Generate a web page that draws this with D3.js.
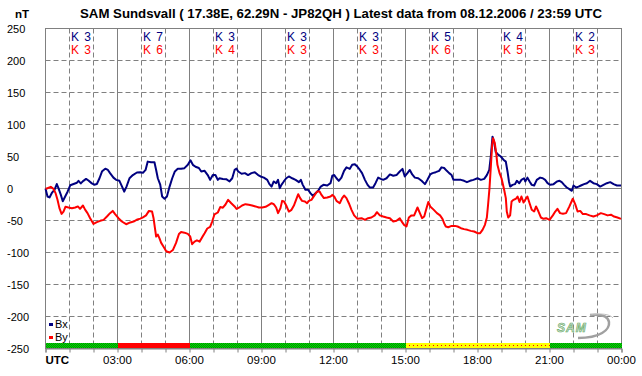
<!DOCTYPE html>
<html><head><meta charset="utf-8">
<script src="https://cdn.jsdelivr.net/npm/d3@7/dist/d3.min.js"></script>
<style>
html,body{margin:0;padding:0;background:#fff;}
svg{display:block;font-family:"Liberation Sans",Arial,sans-serif;}
</style></head>
<body>
<svg id="chart" width="642" height="376"></svg>
<script>
// ---- data ----
const titleText = "SAM Sundsvall ( 17.38E, 62.29N - JP82QH ) Latest data from 08.12.2006 / 23:59 UTC";
const unitLabel = "nT";
const yTicks = [250, 200, 150, 100, 50, 0, -50, -100, -150, -200, -250];
const xTickHours = [0, 3, 6, 9, 12, 15, 18, 21, 24];
const xTickLabels = ["UTC", "03:00", "06:00", "09:00", "12:00", "15:00", "18:00", "21:00", "00:00"];
const kBx = [3, 7, 3, 3, 3, 5, 4, 2];
const kBy = [3, 6, 4, 3, 3, 6, 5, 3];
const activityLevels = ["quiet", "storm", "quiet", "quiet", "quiet", "active", "active", "quiet"];
const seriesNames = ["Bx", "By"];

const bxTimes = [0,0.083,0.167,0.264,0.375,0.47,0.54,0.64,0.72,0.82,0.92,1.03,1.17,1.31,1.375,1.47,1.58,1.69,1.79,1.93,2.03,2.14,2.25,2.36,2.49,2.6,2.69,2.83,2.94,3.08,3.19,3.28,3.375,3.5,3.64,3.81,3.95,4.06,4.17,4.26,4.40,4.54,4.61,4.68,4.78,4.86,4.96,5.06,5.17,5.28,5.39,5.51,5.65,5.79,5.93,6.04,6.14,6.25,6.39,6.49,6.63,6.76,6.86,6.97,7.08,7.18,7.25,7.39,7.53,7.67,7.78,7.88,7.96,8.03,8.17,8.31,8.44,8.58,8.72,8.86,8.96,9.10,9.24,9.33,9.42,9.51,9.61,9.69,9.76,9.83,9.93,10.03,10.14,10.28,10.42,10.56,10.64,10.72,10.83,10.94,11.04,11.14,11.25,11.36,11.47,11.58,11.74,11.875,11.95,12.03,12.125,12.22,12.33,12.44,12.54,12.68,12.78,12.89,13.0,13.10,13.19,13.31,13.42,13.51,13.65,13.75,13.86,13.97,14.07,14.21,14.35,14.49,14.625,14.76,14.875,14.97,15.08,15.18,15.28,15.39,15.53,15.67,15.81,15.92,16.03,16.125,16.26,16.40,16.50,16.61,16.72,16.82,16.92,17.0,17.14,17.31,17.44,17.56,17.69,17.83,18.0,18.14,18.28,18.39,18.49,18.56,18.625,18.69,18.76,18.86,18.97,19.08,19.18,19.25,19.31,19.36,19.46,19.56,19.64,19.74,19.83,19.94,19.99,20.08,20.17,20.26,20.36,20.47,20.61,20.72,20.82,20.92,21.03,21.17,21.31,21.42,21.51,21.61,21.72,21.83,21.93,22.0,22.11,22.21,22.31,22.44,22.56,22.69,22.83,22.97,23.11,23.25,23.39,23.53,23.67,23.81,23.98];
const bxValues = [0,-12.5,-14,-7,-2,7,0.5,-10,-20,-12.5,-5,5,7,9,12,8,12,15,12.5,8,6,7,16,27,31,29,24,17,13.5,12,3,-5,3,16,21,25,25.5,24.5,29,42,41,41,29,16,6,-12.5,-16,-12.5,3,16,26.6,30.7,30.7,31.8,37,44,37,34,32,26.6,27.6,21,13.5,21,21,13.5,16,15,14.6,11,16,29,31,26.6,23,24,21,24,25.5,21,18.8,17,13.5,6.8,3,11,8.3,13.5,0.5,5.7,11,16,18.8,16,13.5,9.9,13.5,5.7,-2,-2,-7.3,-11.5,-7.3,-3.6,3,5.7,4.7,8.3,20,21,16,12,17,27.6,33,30.7,37,38,34,29,24,13.5,5.7,1.6,1.6,8.3,17,15,13.5,16,22,20,21,26.6,30.7,18.8,24,29,22,17,16,12,6.8,14,22,24,25.5,27.6,33,32,27.6,24,21,13.5,13.5,13.5,12,9.9,12,13.5,16,13.5,15,21,29,52,81,73,57,53,50,45,42,26.6,11,3,5.7,6.8,12,8.3,13.5,16,11,17,11,5.7,4.7,13.5,17,16,13.5,8.3,5.7,6.8,11,12,9.9,5.7,1.6,-1,-3.6,4.7,1.6,3,4.7,6.8,8.3,12,8.3,6.8,3,5.7,8.3,9.9,6.8,4.7,4.7];

const byTimes = [0,0.056,0.22,0.33,0.42,0.5,0.58,0.67,0.75,0.83,0.96,1.1,1.24,1.35,1.44,1.56,1.65,1.75,1.86,2.0,2.14,2.28,2.42,2.56,2.69,2.8,2.9,3.04,3.18,3.36,3.53,3.67,3.83,3.95,4.06,4.19,4.31,4.44,4.50,4.56,4.61,4.68,4.75,4.82,4.92,5.03,5.17,5.31,5.44,5.56,5.65,5.79,5.93,6.03,6.11,6.21,6.31,6.42,6.53,6.63,6.74,6.86,6.94,7.04,7.18,7.28,7.39,7.50,7.61,7.74,7.88,7.96,8.06,8.19,8.33,8.47,8.61,8.75,8.89,9.03,9.17,9.31,9.42,9.51,9.61,9.69,9.79,9.86,9.94,10.03,10.14,10.25,10.35,10.44,10.53,10.61,10.69,10.81,10.90,10.97,11.08,11.22,11.32,11.42,11.50,11.60,11.74,11.875,11.95,12.03,12.125,12.26,12.36,12.44,12.54,12.64,12.75,12.86,13.0,13.17,13.31,13.44,13.58,13.72,13.81,13.93,14.07,14.21,14.35,14.49,14.625,14.76,14.86,14.94,15.04,15.14,15.25,15.36,15.50,15.60,15.69,15.78,15.875,15.95,16.03,16.17,16.31,16.44,16.54,16.61,16.68,16.78,16.92,17.06,17.17,17.31,17.44,17.58,17.72,17.86,18.0,18.11,18.21,18.31,18.39,18.44,18.50,18.56,18.61,18.65,18.72,18.78,18.83,18.92,19.0,19.11,19.18,19.22,19.28,19.36,19.42,19.50,19.60,19.67,19.75,19.83,19.92,19.99,20.08,20.17,20.26,20.36,20.44,20.54,20.64,20.75,20.86,21.0,21.14,21.24,21.33,21.44,21.56,21.69,21.83,21.97,22.07,22.17,22.28,22.39,22.53,22.67,22.83,22.97,23.14,23.28,23.42,23.56,23.69,23.83,23.98];
const byValues = [0,0,2.6,-0.5,-7.3,-17.7,-30.7,-39.6,-36,-28.6,-29.7,-30.7,-29.7,-28,-31.8,-26.6,-33,-38.5,-46.4,-55.3,-52.6,-50.5,-49,-43.8,-38.5,-35,-40.1,-46.4,-51.6,-55.8,-53,-51.6,-48.4,-47,-45,-42,-35,-36,-46,-62,-75,-72,-78,-85,-91,-98,-100,-96,-85,-71,-68,-69,-71,-75,-87,-83,-81,-83,-76,-70,-62.5,-60,-52,-40.6,-37.5,-29,-30,-25,-17.7,-23,-28,-32,-30,-26.6,-24.5,-25.5,-26.6,-28,-29.7,-29.7,-28.6,-25.5,-23,-24.5,-29.7,-38.5,-30.7,-19.3,-20.3,-26.6,-36,-33.3,-26.6,-17.7,-8.9,-15,-19.3,-20.3,-23,-19.3,-17.7,-10,-4.7,-4.7,-10,-15,-14,-12.5,-10,-12.5,-19.3,-23,-15,-11,-15,-23,-33.3,-42,-47.4,-46.4,-49,-46.4,-45.3,-42,-37,-42,-43.8,-45.3,-46.4,-51.6,-50.5,-46.4,-52.6,-56.8,-59.4,-45.3,-42,-42,-29.7,-38.5,-46.4,-43.8,-30.7,-21,-28,-33,-38.5,-42,-47.4,-54.2,-59.4,-60.5,-58.4,-58.4,-59.4,-62,-63.5,-64.6,-66.2,-67.2,-69.8,-69.8,-64.6,-56.8,-45.3,-25.5,0.5,37,68,78.6,70.8,55,37,24,16,-2,-15,-36,-45.3,-42,-20.3,-17.7,-16,-12.5,-21,-12.5,-22,-17.7,-12.5,-23,-33.3,-36,-28,-36,-45.3,-47.4,-46.4,-49,-42,-36,-31.8,-38.5,-39.6,-38.5,-28,-16,-24.5,-36,-35,-40,-40,-42,-43.8,-42,-38.5,-40,-42,-41,-43.8,-45.3,-47.4];

// ---- drawing ----
(function () {
const svg = d3.select("#chart");
const pL = 45.5, pR = 621.5, pT = 28.5, pB = 348.5;
const x = d3.scaleLinear().domain([0, 24]).range([pL, pR]);
const y = d3.scaleLinear().domain([-250, 250]).range([pB, pT]);
const gridColor = "#808080";
const colors = {Bx: "#000080", By: "#ff0000"};

const defs = svg.append("defs");
const pq = defs.append("pattern").attr("id", "quiet").attr("patternUnits", "userSpaceOnUse").attr("width", 2).attr("height", 2);
pq.append("rect").attr("width", 2).attr("height", 2).attr("fill", "#00e000");
pq.append("rect").attr("width", 1).attr("height", 1).attr("fill", "#008800");
pq.append("rect").attr("x", 1).attr("y", 1).attr("width", 1).attr("height", 1).attr("fill", "#008800");
const pa = defs.append("pattern").attr("id", "active").attr("patternUnits", "userSpaceOnUse").attr("width", 4).attr("height", 5).attr("y", 343);
pa.append("rect").attr("width", 4).attr("height", 5).attr("fill", "#ffff00");
pa.append("rect").attr("x", 1).attr("y", 2).attr("width", 1).attr("height", 1).attr("fill", "#ff0000");
const ps = defs.append("pattern").attr("id", "storm").attr("patternUnits", "userSpaceOnUse").attr("width", 2).attr("height", 2);
ps.append("rect").attr("width", 2).attr("height", 2).attr("fill", "#ff0000");

// Title
svg.append("text").attr("x", 341).attr("y", 17.5).attr("text-anchor", "middle")
  .attr("font-size", 12.5).attr("font-weight", "bold").attr("fill", "#000")
  .attr("textLength", 522).attr("lengthAdjust", "spacingAndGlyphs").text(titleText);
svg.append("text").attr("x", 15).attr("y", 17.5).attr("font-size", 11.5).attr("font-weight", "bold").text(unitLabel);

// Grid - horizontal
const g = svg.append("g");
g.selectAll("line.h").data(yTicks.filter(v => v !== 250 && v !== -250)).join("line")
  .attr("x1", pL).attr("x2", pR).attr("y1", d => y(d)).attr("y2", d => y(d))
  .attr("stroke", gridColor).attr("stroke-width", 1)
  .attr("stroke-dasharray", d => d === 0 ? null : "5,3");
// Grid - vertical
const hours = d3.range(1, 24);
g.selectAll("line.v").data(hours).join("line")
  .attr("x1", d => x(d)).attr("x2", d => x(d)).attr("y1", pT).attr("y2", pB)
  .attr("stroke", gridColor).attr("stroke-width", 1)
  .attr("stroke-dasharray", d => d % 3 === 0 ? null : "5,3");
// Frame
g.append("rect").attr("x", pL).attr("y", pT).attr("width", pR - pL).attr("height", pB - pT)
  .attr("fill", "none").attr("stroke", gridColor).attr("stroke-width", 1);

// Y labels
svg.append("g").selectAll("text").data(yTicks).join("text")
  .attr("x", 7).attr("y", d => y(d) + 4).attr("font-size", 11).attr("fill", "#000").text(d => d);

// X axis ticks
const xAxis = d3.axisBottom(x).tickValues(d3.range(0, 25)).tickSize(4).tickFormat("");
const ax = svg.append("g").attr("transform", `translate(0,${pB})`).call(xAxis);
ax.select(".domain").attr("stroke", gridColor);
ax.selectAll(".tick line").attr("stroke", gridColor);
svg.append("g").selectAll("text").data(xTickHours).join("text")
  .attr("x", d => x(d))
  .attr("y", 364).attr("font-size", 11.5)
  .attr("text-anchor", (d, i) => i === 0 ? "start" : "middle")
  .attr("font-weight", (d, i) => i === 0 ? "bold" : "normal")
  .text((d, i) => xTickLabels[i]);

// Activity bar
svg.append("g").selectAll("rect").data(activityLevels).join("rect")
  .attr("x", (d, i) => x(i * 3) + 0.5).attr("width", (d, i) => x(i * 3 + 3) - x(i * 3))
  .attr("y", 343).attr("height", 5)
  .attr("fill", d => `url(#${d})`);

// K labels
const kg = svg.append("g").attr("font-size", 12).attr("text-anchor", "middle");
kg.selectAll("text.kx").data(kBx).join("text").attr("class", "kx")
  .attr("x", (d, i) => x(i * 3 + 1.5)).attr("y", 41).attr("fill", "#000080")
  .attr("letter-spacing", 1).text(d => "K " + d);
kg.selectAll("text.ky").data(kBy).join("text").attr("class", "ky")
  .attr("x", (d, i) => x(i * 3 + 1.5)).attr("y", 54).attr("fill", "#ff0000")
  .attr("letter-spacing", 1).text(d => "K " + d);

// Lines
const line = d3.line().x(d => x(d[0])).y(d => y(d[1]));
const bxData = bxTimes.map((t, i) => [t, bxValues[i]]);
const byData = byTimes.map((t, i) => [t, byValues[i]]);
svg.append("path").datum(bxData).attr("d", line).attr("fill", "none")
  .attr("stroke", colors.Bx).attr("stroke-width", 2).attr("stroke-linejoin", "round");
svg.append("path").datum(byData).attr("d", line).attr("fill", "none")
  .attr("stroke", colors.By).attr("stroke-width", 2).attr("stroke-linejoin", "round");

// Legend
const lg = svg.append("g");
seriesNames.forEach((n, i) => {
  lg.append("rect").attr("x", 49).attr("y", 323 + i * 13).attr("width", 4).attr("height", 3).attr("fill", colors[n]);
  lg.append("text").attr("x", 55).attr("y", 328 + i * 13).attr("font-size", 11).attr("fill", "#000").text(n);
});

// SAM logo
const logo = svg.append("g");
logo.append("path").attr("d", "M578,338 C600,338 610,330 609,322 C608,316 600,314 590,315")
  .attr("fill", "none").attr("stroke", "#a0a0a0").attr("stroke-width", 2.5);
logo.append("path").attr("d", "M590,315 C600,313 610,314 613,318")
  .attr("fill", "none").attr("stroke", "#c0c0c0").attr("stroke-width", 1);
logo.append("text").attr("x", 557).attr("y", 332).attr("font-size", 12).attr("font-weight", "bold")
  .attr("font-style", "italic").attr("fill", "#d8d8d8").attr("stroke", "#60b060").attr("stroke-width", 0.6)
  .attr("letter-spacing", 1).text("SAM");
})();
</script>
</body></html>
